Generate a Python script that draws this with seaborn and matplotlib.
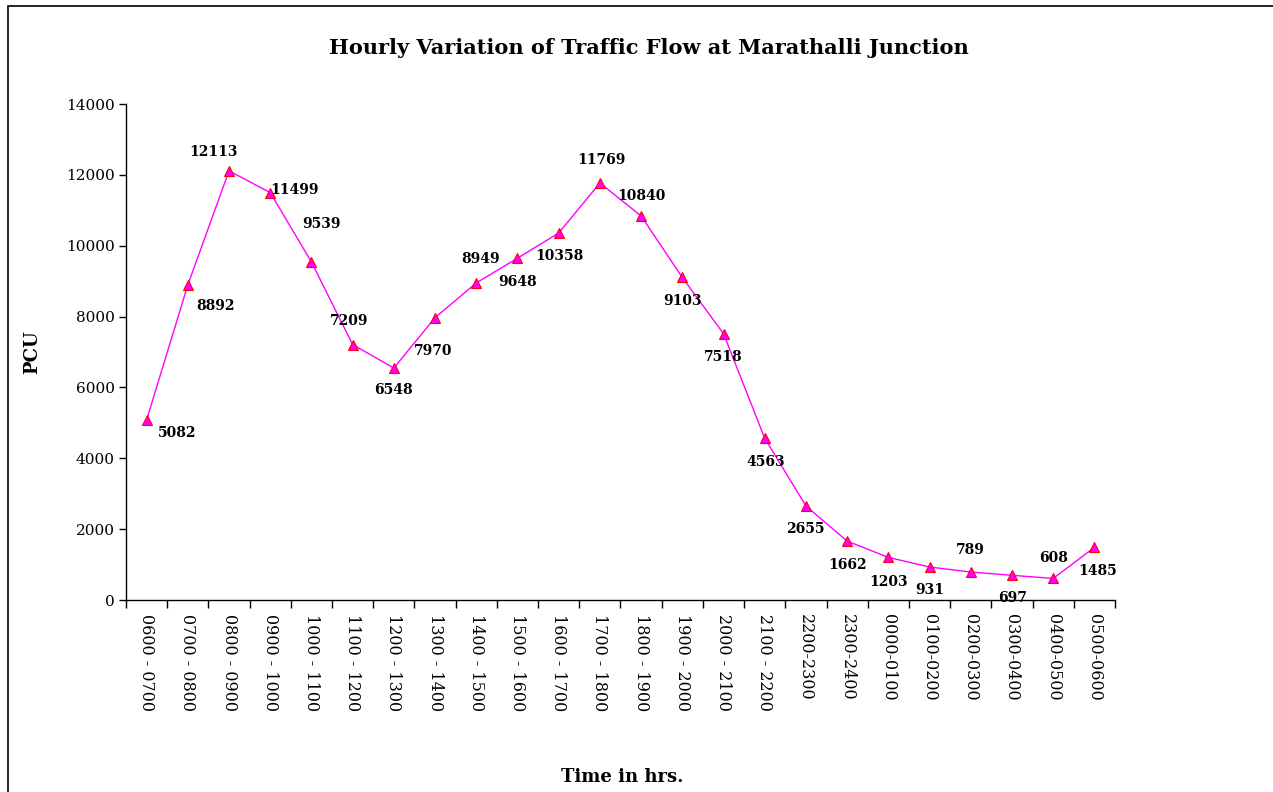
import matplotlib.pyplot as plt
import matplotlib.patches as mpatches
from matplotlib.ticker import FixedLocator, NullFormatter
import seaborn as sns
import pandas as pd
import numpy as np

# data
time_slots = ['0600 - 0700', '0700 - 0800', '0800 - 0900', '0900 - 1000', '1000 - 1100',
              '1100 - 1200', '1200 - 1300', '1300 - 1400', '1400 - 1500', '1500 - 1600',
              '1600 - 1700', '1700 - 1800', '1800 - 1900', '1900 - 2000', '2000 - 2100',
              '2100 - 2200', '2200-2300', '2300-2400', '0000-0100', '0100-0200',
              '0200-0300', '0300-0400', '0400-0500', '0500-0600']
pcu = [5082, 8892, 12113, 11499, 9539, 7209, 6548, 7970, 8949, 9648, 10358, 11769,
       10840, 9103, 7518, 4563, 2655, 1662, 1203, 931, 789, 697, 608, 1485]

# label offsets in pixels (dx, dy downwards) to mimic the original placement
label_offsets = [(31, 13), (28, 21), (-16, -19), (24, -3), (10, -38), (-4, -24),
                 (0, 22), (-2, 33), (4, -24), (0, 24), (1, 23), (2, -23),
                 (0, -20), (0, 24), (0, 23), (1, 24), (-1, 23), (0, 24),
                 (0, 25), (0, 23), (0, -22), (1, 23), (0, -20), (3, 24)]

df = pd.DataFrame({'slot': time_slots, 'pcu': pcu})
df['pos'] = np.arange(len(df))

sns.set_style('white')
plt.rcParams['font.family'] = ['DejaVu Serif']
plt.rcParams['text.color'] = 'black'
plt.rcParams['xtick.color'] = 'black'
plt.rcParams['ytick.color'] = 'black'
plt.rcParams['axes.labelcolor'] = 'black'

fig = plt.figure(figsize=(12.73, 7.92), dpi=100)
ax = fig.add_axes([126 / 1273, 1 - 600 / 792, (1115 - 126) / 1273, (600 - 104) / 792])

sns.lineplot(data=df, x='pos', y='pcu', ax=ax, color='#FF00FF', linewidth=1,
             marker='^', markersize=7.5, markerfacecolor='#FF00FF',
             markeredgecolor='#FF0000', markeredgewidth=0.8)

for i, (v, (dx, dy)) in enumerate(zip(df['pcu'], label_offsets)):
    ax.annotate(str(v), (i, v), xytext=(dx, -dy), textcoords='offset pixels',
                ha='center', va='center', fontsize=10, fontweight='bold', color='black')

ax.set_xlim(-0.5, len(time_slots) - 0.5)
ax.set_ylim(0, 14000)
ax.set_yticks(range(0, 14001, 2000))
ax.tick_params(axis='y', labelsize=11, length=5, width=1, direction='out', left=True, pad=3)

ax.set_xticks(df['pos'])
ax.set_xticklabels(time_slots, rotation=-90, fontsize=11.5)
ax.tick_params(axis='x', which='major', length=0, pad=10)
ax.xaxis.set_minor_locator(FixedLocator(np.arange(-0.5, len(time_slots), 1)))
ax.xaxis.set_minor_formatter(NullFormatter())
ax.tick_params(axis='x', which='minor', length=6, width=1, direction='out', bottom=True)

for s in ['top', 'right']:
    ax.spines[s].set_visible(False)
for s in ['left', 'bottom']:
    ax.spines[s].set_color('black')
    ax.spines[s].set_linewidth(1)

ax.set_xlabel('')
ax.set_ylabel('')
fig.text(649 / 1273, 1 - 48 / 792, 'Hourly Variation of Traffic Flow at Marathalli Junction',
         ha='center', va='center', fontsize=15, fontweight='bold', color='black')
fig.text(32 / 1273, 1 - 352 / 792, 'PCU', rotation=90, ha='center', va='center',
         fontsize=13, fontweight='bold', color='black')
fig.text(622 / 1273, 1 - 777 / 792, 'Time in hrs.', ha='center', va='center',
         fontsize=13, fontweight='bold', color='black')

# outer chart border (runs off the right and bottom edges)
fig.patches.append(mpatches.Rectangle((8 / 1273, -0.05), 1.2, 1 - 6 / 792 + 0.05,
                                      transform=fig.transFigure, fill=False,
                                      edgecolor='black', linewidth=1.2))

fig.savefig('out.png', dpi=100)
